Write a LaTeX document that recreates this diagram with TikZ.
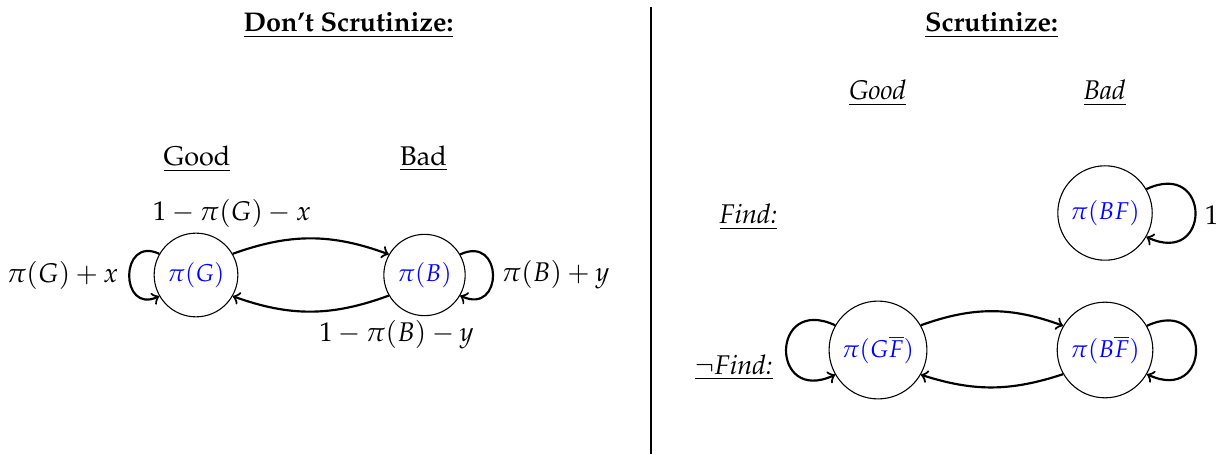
\documentclass[tikz,border=0pt]{standalone}
\usepackage[T1]{fontenc}
\usepackage{mathpazo}
\begin{document}
\begin{tikzpicture}[x=0.37pt,y=0.37pt,
  state/.style={circle, draw, thin, inner sep=2.9pt, text=blue, font=\fontsize{9}{11}\selectfont},
  arr/.style={->, thick},
  hdr/.style={anchor=base, inner sep=0pt},
  lbl/.style={inner sep=0pt}]
\useasboundingbox (0,0) rectangle (1223,454);
% titles
\node[hdr] (t1) at (348.5,422) {\textbf{\underline{Don't Scrutinize:}}};
\node[hdr] (t2) at (991.5,422) {\textbf{\underline{Scrutinize:}}};
\coordinate (vtop) at (651,447);
\coordinate (vbot) at (651,0);
\draw[line width=0.9pt] (vtop) -- (vbot);
% left headers
\node[hdr] (lgood) at (197,288) {\underline{Good}};
\node[hdr] (lbad) at (423.5,288) {\underline{Bad}};
% right headers
\node[hdr] (rgood) at (877.5,354) {\underline{\textit{Good}}};
\node[hdr] (rbad) at (1104.5,354) {\underline{\textit{Bad}}};
\node[hdr] (find) at (748.5,230) {\underline{\textit{Find:}}};
\node[hdr] (nfind) at (734,80) {\underline{$\neg$\textit{Find:}}};
% states
\node[state] (G) at (196,179) {$\pi(G)$};
\node[state] (B) at (424.5,179) {$\pi(B)$};
\node[state] (BF) at (1105,241) {$\pi(BF)$};
\node[state] (GnF) at (878,104) {$\pi(G\overline{F})$};
\node[state] (BnF) at (1105,104) {$\pi(B\overline{F})$};
% labels
\node[lbl] (lGG) at (62.5,179) {$\pi(G)+x$};
\node[lbl] (lBB) at (555.5,179) {$\pi(B)+y$};
\node[lbl] (lGB) at (232,241) {$1-\pi(G)-x$};
\node[lbl] (lBG) at (396.5,119) {$1-\pi(B)-y$};
\node[lbl] (lBF) at (1211.5,239) {$1$};
% edges
\draw[arr] (G.30) to[bend left=20] (B.150);
\draw[arr] (B.210) to[bend left=20] (G.330);
\draw[arr] (G.150) .. controls +(155:44) and +(205:44) .. (G.210);
\draw[arr] (B.30) .. controls +(25:48) and +(-25:48) .. (B.330);
\draw[arr] (BF.30) .. controls +(25:72) and +(-25:72) .. (BF.330);
\draw[arr] (BnF.30) .. controls +(25:72) and +(-25:72) .. (BnF.330);
\draw[arr] (GnF.150) .. controls +(155:72) and +(205:72) .. (GnF.210);
\draw[arr] (GnF.30) to[bend left=20] (BnF.150);
\draw[arr] (BnF.210) to[bend left=18] (GnF.330);
\end{tikzpicture}
\end{document}
